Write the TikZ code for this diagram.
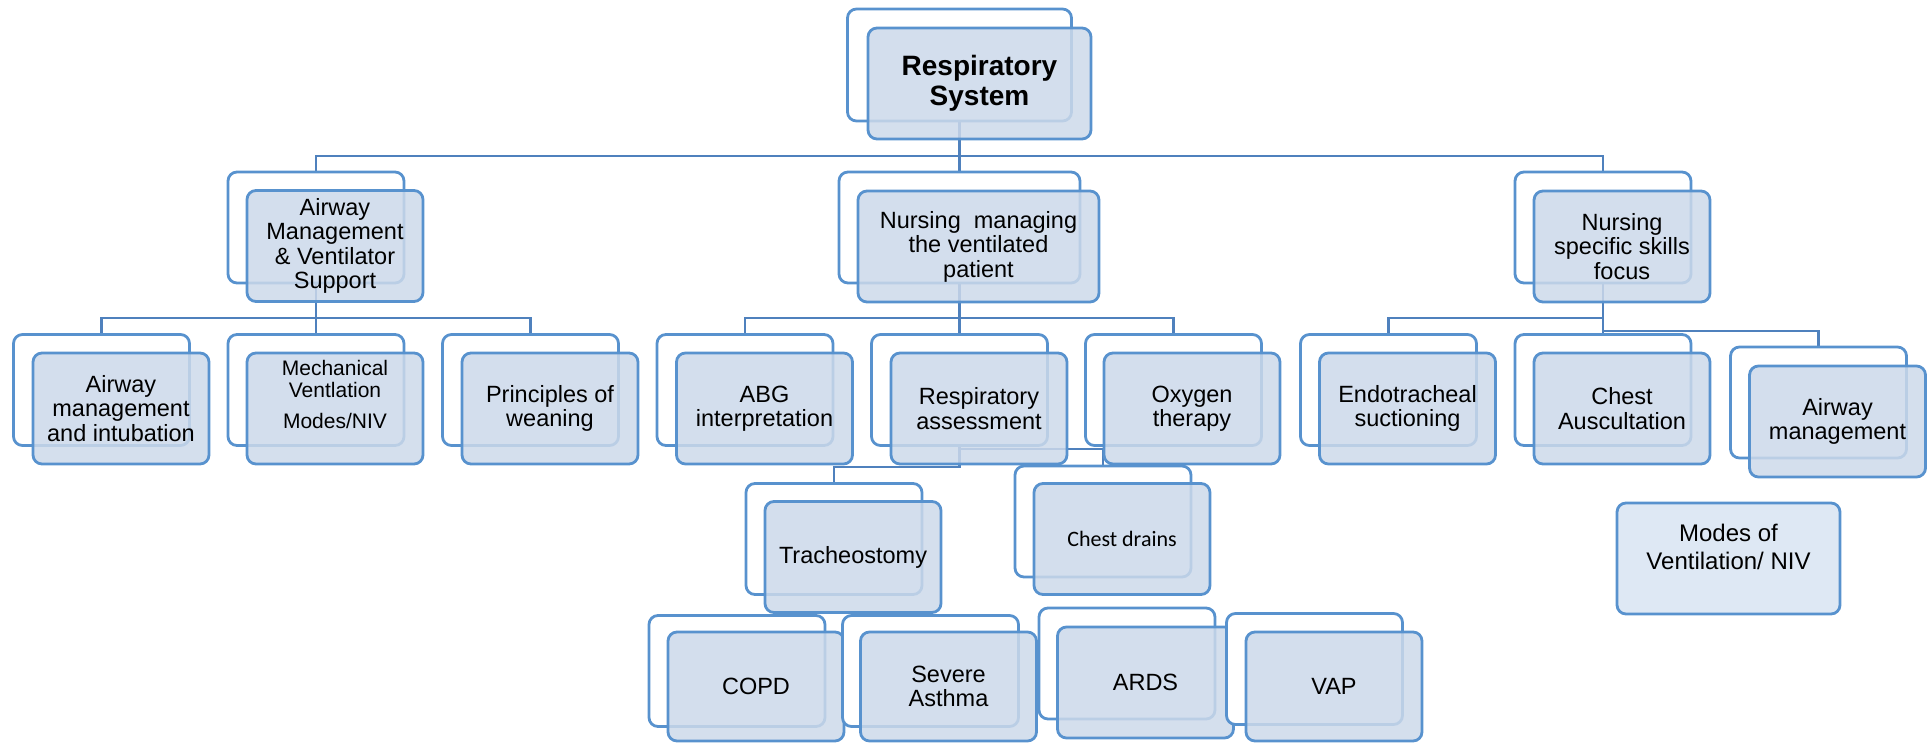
\documentclass[tikz,border=0pt]{standalone}
\usepackage{fontspec}
\setmainfont{Liberation Sans}
\newfontfamily\calibfont{Carlito}
\usetikzlibrary{backgrounds}
\definecolor{edgeblue}{RGB}{88,146,206}
\definecolor{connblue}{RGB}{79,129,189}
\definecolor{frontfill}{RGB}{204,217,234}
\definecolor{modesfill}{RGB}{222,232,244}
\begin{document}
\begin{tikzpicture}[x=1pt,y=-1pt,
  box/.style={rectangle,rounded corners=9pt,draw=edgeblue,line width=2.8pt,inner sep=0pt,
    minimum width=176pt,minimum height=111pt,align=center},
  backbox/.style={box,fill=white},
  frontbox/.style={box,fill=frontfill,fill opacity=0.85,text opacity=1,
    font=\fontsize{23.5}{24.5}\selectfont},
  txt/.style={align=center,inner sep=0pt},
  conn/.style={draw=connblue,line width=2.7pt}]
\useasboundingbox (0,0) rectangle (1932,742);

% ---------- root ----------
\node[backbox,minimum width=224pt,minimum height=112pt] (rootB) at (959.5,65) {};
\node[frontbox,minimum width=223pt,minimum height=111pt,font=\bfseries\fontsize{28}{30}\selectfont] (rootF) at (979.5,83.5) {Respiratory\\System};

% ---------- level 1 ----------
\node[backbox] (AB) at (316,227.5) {};
\node[frontbox] (AF) at (335,246) {Airway\\Management\\\& Ventilator\\Support};
\node[backbox,minimum width=241pt] (NB) at (959.5,227.5) {};
\node[frontbox,minimum width=241pt] (NF) at (978.5,246.5) {Nursing\ \ managing\\the ventilated\\patient};
\node[backbox] (SB) at (1603,227.5) {};
\node[frontbox] (SF) at (1622,246.5) {Nursing\\specific skills\\focus};

% ---------- level 2 (A) ----------
\node[backbox] (A1B) at (101.5,390) {};
\node[frontbox] (A1F) at (121,408.5) {Airway\\management\\and intubation};
\node[backbox] (A2B) at (316,390) {};
\node[frontbox] (A2F) at (335,408.5) {};
\node[txt,font=\fontsize{21}{22}\selectfont] (A2T) at (335,394) {Mechanical\\Ventlation\\[9pt]Modes/NIV};
\node[backbox] (A3B) at (530.5,390) {};
\node[frontbox] (A3F) at (550,408.5) {Principles of\\weaning};

% ---------- level 2 (N) ----------
\node[backbox] (N1B) at (745,390) {};
\node[frontbox] (N1F) at (764.5,408.5) {ABG\\interpretation};
\node[backbox] (N2B) at (959.5,390) {};
\node[frontbox] (N2F) at (979,408.5) {Respiratory\\assessment};
\node[backbox] (N3B) at (1173.5,390) {};
\node[frontbox] (N3F) at (1192,408.5) {Oxygen\\therapy};

% ---------- level 2 (S) ----------
\node[backbox] (S1B) at (1388.5,390) {};
\node[frontbox] (S1F) at (1407.5,408.5) {Endotracheal\\suctioning};
\node[backbox] (S2B) at (1603,390) {};
\node[frontbox] (S2F) at (1622,408.5) {Chest\\Auscultation};
\node[backbox] (S3B) at (1818.5,402.5) {};
\node[frontbox] (S3F) at (1837.5,421.5) {Airway\\management};

% single box
\node[box,fill=modesfill,minimum width=223pt] (MB) at (1728.5,558.5) {};
\node[txt,font=\fontsize{24}{28}\selectfont] (MT) at (1728.5,547) {Modes of\\Ventilation/ NIV};

% ---------- level 3 ----------
\node[backbox] (TrB) at (834,539) {};
\node[frontbox] (TrF) at (853,557) {Tracheostomy};
\node[backbox] (CdB) at (1103,521.5) {};
\node[frontbox,font=\calibfont\fontsize{22}{24}\selectfont] (CdF) at (1122,539) {Chest drains};

% ---------- bottom row ----------
\node[backbox] (CoB) at (737,671) {};
\node[frontbox,minimum height=109pt] (CoF) at (756,686.5) {COPD};
\node[backbox] (SaB) at (930.5,671) {};
\node[frontbox,minimum height=109pt] (SaF) at (948.5,686.5) {Severe\\Asthma};
\node[backbox] (ArB) at (1127,663.5) {};
\node[frontbox] (ArF) at (1145.5,682.5) {ARDS};
\node[backbox] (VaB) at (1314.5,669) {};
\node[frontbox,minimum height=109pt] (VaF) at (1334,686.5) {VAP};

% ---------- connectors ----------
\begin{pgfonlayer}{background}
\coordinate (bar1) at (959.5,156);
\draw[conn] (rootB.south) -- (NB.north);
\draw[conn] (AB.north) |- (bar1) -| (SB.north);
\coordinate (barA) at (316,318);
\draw[conn] (AB.south) -- (A2B.north);
\draw[conn] (A1B.north) |- (barA) -| (A3B.north);
\coordinate (barN) at (959.5,318);
\draw[conn] (NB.south) -- (N2B.north);
\draw[conn] (N1B.north) |- (barN) -| (N3B.north);
\coordinate (barS) at (1603,318);
\coordinate (barS2) at (1603,331);
\draw[conn] (SB.south) -- (S2B.north);
\draw[conn] (S1B.north) |- (barS);
\draw[conn] (barS2) -| (S3B.north);
\coordinate (brA) at (959.5,449);
\coordinate (brB) at (959.5,467);
\draw[conn] (N2B.south) -- (brB) -| (TrB.north);
\draw[conn] (brA) -| (CdB.north);
\end{pgfonlayer}
\end{tikzpicture}
\end{document}
